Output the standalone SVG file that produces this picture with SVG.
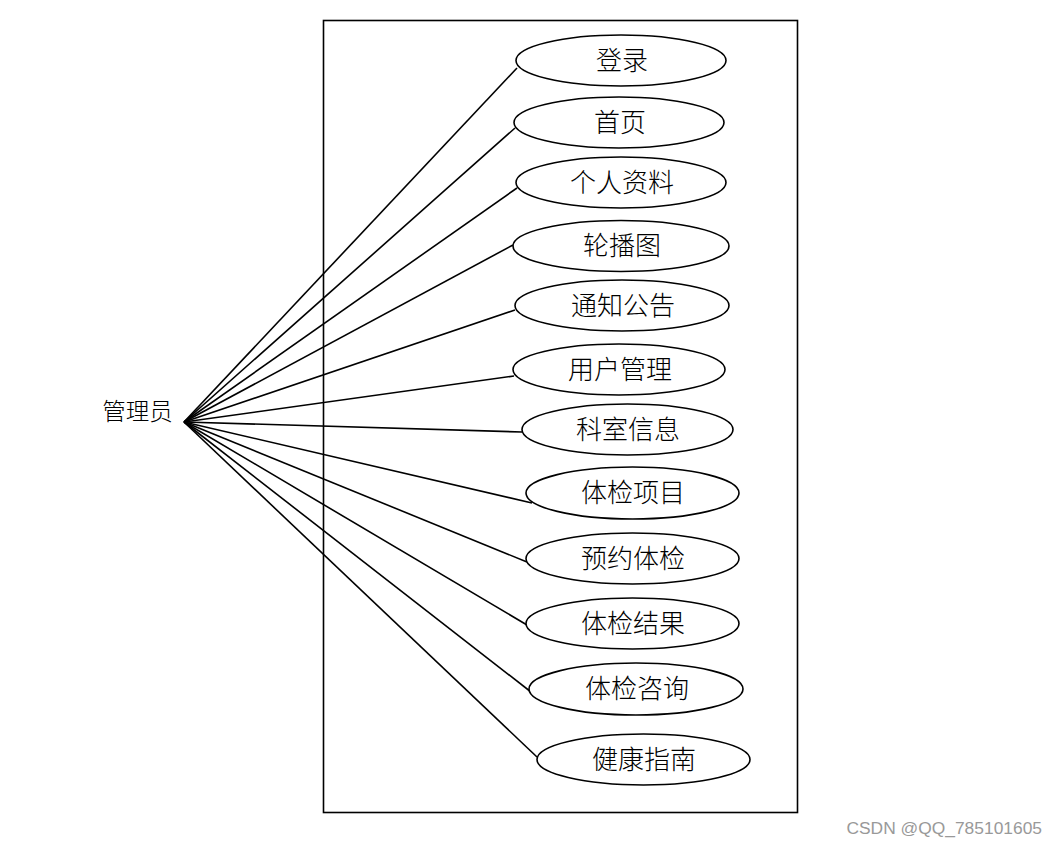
<svg xmlns="http://www.w3.org/2000/svg" width="1057" height="846" viewBox="0 0 1057 846">
<style>
.uc ellipse{fill:#fff;stroke:#000;stroke-width:1.6}
.t{font-family:"Liberation Serif","Noto Sans CJK SC",serif;font-size:26px;font-weight:300;fill:#000;text-anchor:middle;dominant-baseline:central}
#connectors line{stroke:#000;stroke-width:1.6}
</style>
<rect width="1057" height="846" fill="#fff"/>
<rect id="system" x="323.5" y="20.5" width="474" height="792" fill="none" stroke="#000" stroke-width="1.6"/>
<g id="connectors">
<line x1="184" y1="422" x2="517" y2="68"/>
<line x1="184" y1="422" x2="515" y2="128"/>
<line x1="184" y1="422" x2="517" y2="188"/>
<line x1="184" y1="422" x2="513" y2="245"/>
<line x1="184" y1="422" x2="515" y2="310"/>
<line x1="184" y1="422" x2="514" y2="376"/>
<line x1="184" y1="422" x2="522" y2="432"/>
<line x1="184" y1="422" x2="532" y2="503"/>
<line x1="184" y1="422" x2="527" y2="562"/>
<line x1="184" y1="422" x2="527" y2="625"/>
<line x1="184" y1="422" x2="531" y2="692"/>
<line x1="184" y1="422" x2="537" y2="757"/>
</g>
<g id="actor"><text x="137.5" y="412" class="t" style="font-size:23.5px">管理员</text></g>
<g id="uc1" class="uc"><ellipse cx="621" cy="60.5" rx="105" ry="25.5"/><text x="622" y="61" class="t">登录</text></g>
<g id="uc2" class="uc"><ellipse cx="619" cy="122.5" rx="105" ry="25.5"/><text x="620" y="123" class="t">首页</text></g>
<g id="uc3" class="uc"><ellipse cx="621" cy="182.5" rx="105" ry="25.5"/><text x="622" y="183" class="t">个人资料</text></g>
<g id="uc4" class="uc"><ellipse cx="621" cy="246" rx="108" ry="25.5"/><text x="622" y="246" class="t">轮播图</text></g>
<g id="uc5" class="uc"><ellipse cx="622" cy="305.5" rx="107" ry="25.5"/><text x="623" y="306" class="t">通知公告</text></g>
<g id="uc6" class="uc"><ellipse cx="619" cy="369.5" rx="106" ry="25.5"/><text x="620" y="370" class="t">用户管理</text></g>
<g id="uc7" class="uc"><ellipse cx="627.5" cy="429.5" rx="105.5" ry="25.5"/><text x="628" y="430" class="t">科室信息</text></g>
<g id="uc8" class="uc"><ellipse cx="632.5" cy="493" rx="106.5" ry="26"/><text x="633" y="493" class="t">体检项目</text></g>
<g id="uc9" class="uc"><ellipse cx="632.5" cy="558.5" rx="106.5" ry="25.5"/><text x="633" y="559" class="t">预约体检</text></g>
<g id="uc10" class="uc"><ellipse cx="632.5" cy="623.5" rx="106.5" ry="25.5"/><text x="633" y="624" class="t">体检结果</text></g>
<g id="uc11" class="uc"><ellipse cx="636" cy="689" rx="107" ry="26"/><text x="637" y="689" class="t">体检咨询</text></g>
<g id="uc12" class="uc"><ellipse cx="643.5" cy="759.5" rx="106.5" ry="25.5"/><text x="644" y="760" class="t">健康指南</text></g>
<text x="1042" y="834" font-family="'Liberation Sans',Arial,sans-serif" font-size="17.4" fill="#999" text-anchor="end">CSDN @QQ_785101605</text>
</svg>
